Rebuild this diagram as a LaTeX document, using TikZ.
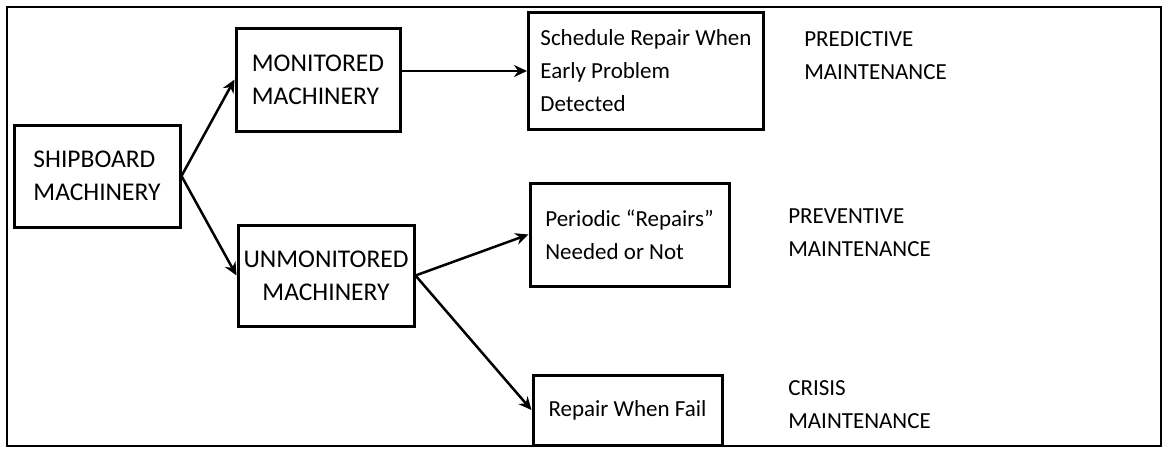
\documentclass[tikz,border=0pt]{standalone}
\usepackage{fontspec}
\setmainfont{Carlito}
\usetikzlibrary{arrows.meta}
\begin{document}
\begin{tikzpicture}[x=1pt,y=-1pt,->,>={Stealth[length=13pt,width=12pt]},line width=2.5pt,font=\fontsize{23}{33}\selectfont]
  \tikzset{box/.style={draw,line width=3pt,align=left,inner sep=0pt},
           big/.style={font=\fontsize{25.5}{33}\selectfont},
           tag/.style={anchor=west,align=left,inner sep=0pt}}
  \useasboundingbox (0,0) rectangle (1167,448);
  \draw[-,line width=2pt] (7,7) rectangle (1161,446);
  \node[box,big,minimum width=166pt,minimum height=102pt] (ship) at (97,176) {SHIPBOARD\\MACHINERY};
  \node[box,big,minimum width=164pt,minimum height=103pt] (mon) at (318,79.5) {MONITORED\\MACHINERY};
  \node[box,big,align=center,minimum width=176pt,minimum height=101pt] (unmon) at (326,275.5) {UNMONITORED\\MACHINERY};
  \node[box,minimum width=235pt,minimum height=117pt] (sched) at (646,71) {Schedule Repair When\\Early Problem\\Detected};
  \node[box,minimum width=199pt,minimum height=103pt] (periodic) at (629.5,234.5) {Periodic “Repairs”\\Needed or Not};
  \node[box,minimum width=189pt,minimum height=70pt] (fail) at (627.5,410) {Repair When Fail};
  \node[tag] (predictive) at (803,56) {PREDICTIVE\\MAINTENANCE};
  \node[tag] (preventive) at (787,233) {PREVENTIVE\\MAINTENANCE};
  \node[tag] (crisis) at (787,405) {CRISIS\\MAINTENANCE};
  \draw (ship.east)--(mon.west);
  \draw (ship.east)--(unmon.west);
  \draw (mon.east |- sched.west)--(sched.west);
  \draw (unmon.east)--(periodic.west);
  \draw (unmon.east)--(fail.west);
\end{tikzpicture}
\end{document}
